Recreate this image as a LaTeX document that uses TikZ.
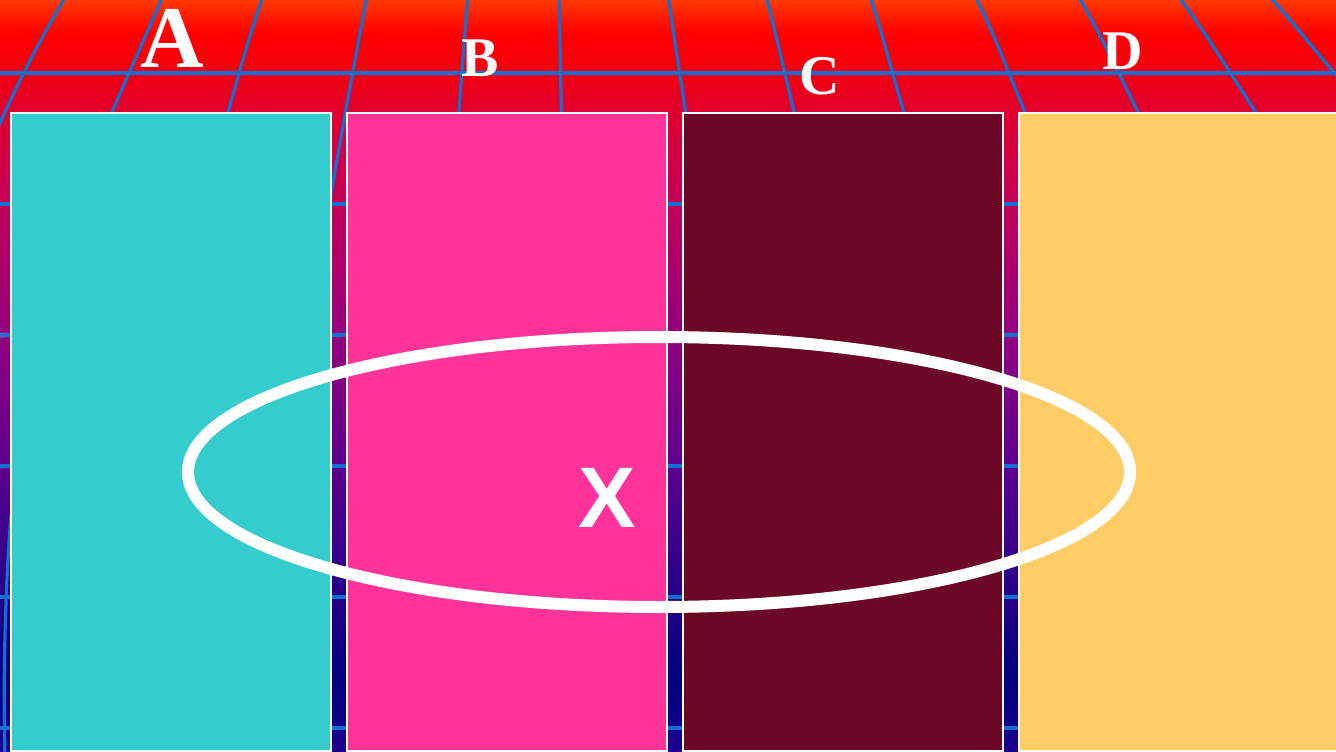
\documentclass[tikz,border=0pt]{standalone}
\usepackage{fontspec}
\setmainfont{Liberation Serif}
\newfontfamily\xsansfont{Liberation Sans}
\definecolor{gridblue}{RGB}{16,112,214}
\definecolor{cA}{RGB}{52,204,204}
\definecolor{cB}{RGB}{255,51,153}
\definecolor{cC}{RGB}{108,8,38}
\definecolor{cD}{RGB}{255,204,102}
\definecolor{g0}{RGB}{255,58,0}
\definecolor{g1}{RGB}{255,24,0}
\definecolor{g2}{RGB}{255,0,0}
\definecolor{g3}{RGB}{242,0,15}
\definecolor{g4}{RGB}{224,0,48}
\definecolor{g5}{RGB}{194,0,90}
\definecolor{g6}{RGB}{146,0,127}
\definecolor{g7}{RGB}{92,0,143}
\definecolor{g8}{RGB}{36,0,136}
\definecolor{g9}{RGB}{0,0,127}
\definecolor{g10}{RGB}{30,0,144}
\begin{document}
\begin{tikzpicture}[x=1pt,y=-1pt,
  panel/.style={draw=white, line width=2pt, inner sep=0pt, outer sep=0pt,
    minimum width=320pt, minimum height=638pt, anchor=north west},
  letter/.style={text=white, anchor=base, inner sep=0pt,
    font=\bfseries\fontsize{56}{56}\selectfont},
  gridline/.style={draw=gridblue, line width=3.2pt},
  ring/.style={draw=white, line width=12pt}]
\useasboundingbox (0,0) rectangle (1336,752);
\begin{scope}
\clip (0,0) rectangle (1336,752);
% background gradient
\foreach \ya/\yb/\ca/\cb in {0/18/g0/g1, 18/34/g1/g2, 34/73/g2/g3, 73/113/g3/g4,
  113/204/g4/g5, 204/335/g5/g6, 335/466/g6/g7, 466/597/g7/g8, 597/680/g8/g9, 680/752/g9/g10}
  \fill[top color=\ca, bottom color=\cb] (-1,\ya-0.6) rectangle (1337,\yb+0.6);
% horizontal grid lines
\foreach \y in {73,204,335,466,597,728}
  \draw[gridline] (-2,\y) -- (1338,\y);
% converging grid lines
\draw[gridline] (66,-4) .. controls (40,40) and (15,85) .. (-20,170);
\draw[gridline] (163,-4) .. controls (140,50) and (120,90) .. (80,190);
\draw[gridline] (263,-4) .. controls (248,40) and (232,95) .. (205,200);
\draw[gridline] (367,-4) .. controls (355,60) and (340,140) .. (325,230);
\draw[gridline] (468,-4) .. controls (464,40) and (460,100) .. (452,200);
\draw[gridline] (559,-4) .. controls (560,40) and (561,100) .. (563,200);
\draw[gridline] (668,-4) .. controls (675,40) and (683,100) .. (700,200);
\draw[gridline] (766,-4) .. controls (778,40) and (790,100) .. (816,200);
\draw[gridline] (870,-4) .. controls (885,40) and (898,100) .. (931,200);
\draw[gridline] (975,-4) .. controls (998,40) and (1018,100) .. (1062,200);
\draw[gridline] (1078,-4) .. controls (1105,40) and (1130,100) .. (1183,200);
\draw[gridline] (1178,-4) .. controls (1212,40) and (1245,100) .. (1315,200);
\draw[gridline] (1269,-4) .. controls (1300,30) and (1330,70) .. (1367,110);
\draw[gridline] (11,515) .. controls (5,590) and (3,680) .. (5,756);
% panels
\node[panel, fill=cA] (pA) at (11,113) {};
\node[panel, fill=cB] (pB) at (347,113) {};
\node[panel, fill=cC] (pC) at (683,113) {};
\node[panel, fill=cD] (pD) at (1019,113) {};
% ellipse
\draw[ring] (659,472) ellipse [x radius=471, y radius=135];
\end{scope}
% labels
\node[letter, font=\bfseries\fontsize{88}{88}\selectfont] (lA) at (172,68) {A};
\node[letter] (lB) at (480,77) {B};
\node[letter] (lC) at (820,94) {C};
\node[letter] (lD) at (1123,70) {D};
\node[text=white, anchor=base, inner sep=0pt,
  font=\xsansfont\bfseries\fontsize{86}{86}\selectfont] (lX) at (607,527) {X};
\end{tikzpicture}
\end{document}
